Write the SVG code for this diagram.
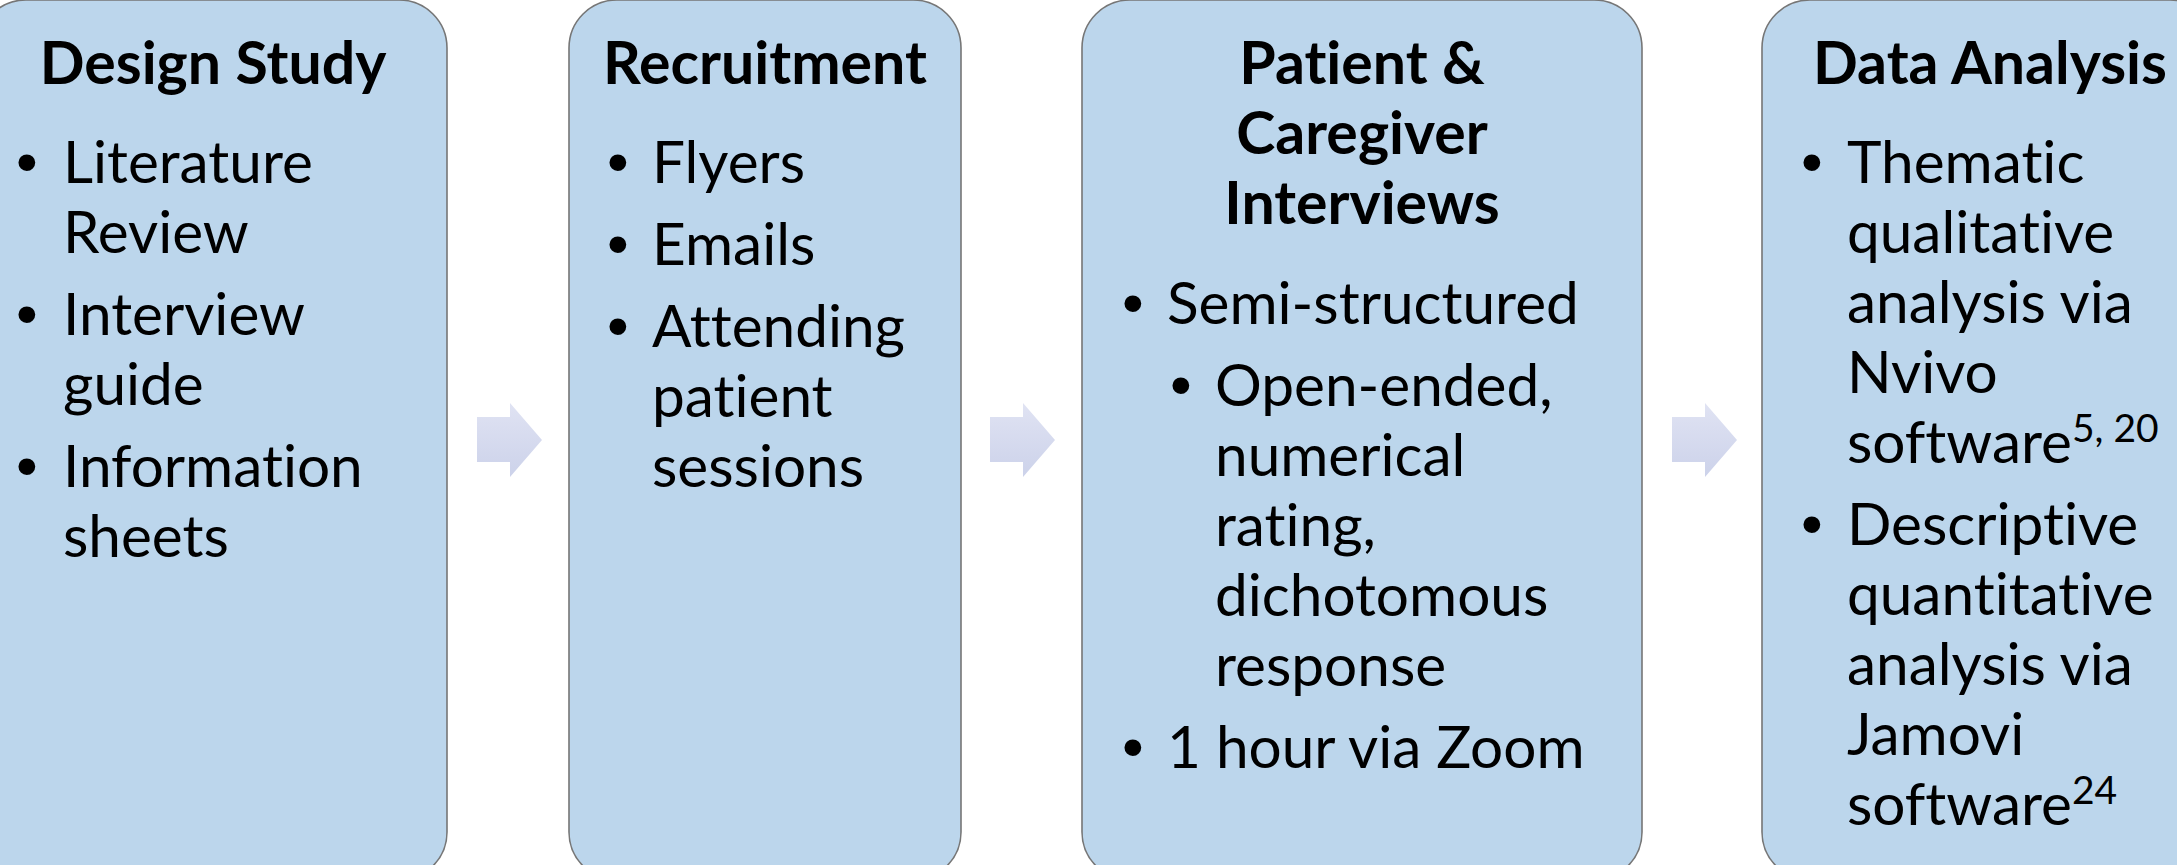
<svg xmlns="http://www.w3.org/2000/svg" width="2177" height="865" viewBox="0 0 2177 865">
  <defs>
    <linearGradient id="arrowFill" x1="0" y1="0" x2="0" y2="1">
      <stop offset="0" stop-color="#e0e3f3"/>
      <stop offset="1" stop-color="#ccd2ea"/>
    </linearGradient>
    <style>
      .box { fill: #bcd6ec; stroke: #767676; stroke-width: 1.6; }
      .arrow { fill: url(#arrowFill); stroke: none; }
      text { font-family: Lato, "Open Sans", sans-serif; fill: #000; font-variant-ligatures: none; font-feature-settings: "liga" 0, "dlig" 0; }
      .title { font-size: 59px; font-weight: 700; text-anchor: middle; }
      .item { font-size: 58.5px; }
      .dot { font-family: "Liberation Sans", Arial, sans-serif; font-size: 62px; }
      .sup { font-size: 39px; }
    </style>
  </defs>

  <rect width="2177" height="865" fill="#ffffff"/>

  <!-- step 1 -->
  <g id="design-study">
    <rect class="box" x="-22" y="0" width="469" height="880" rx="48" ry="48"/>
    <text class="title" x="213" y="84">Design Study</text>
    <text class="dot" x="16" y="183">•</text>
    <text class="item" x="63" y="183">Literature</text>
    <text class="item" x="63" y="253">Review</text>
    <text class="dot" x="16" y="335">•</text>
    <text class="item" x="63" y="335">Interview</text>
    <text class="item" x="63" y="405">guide</text>
    <text class="dot" x="16" y="487">•</text>
    <text class="item" x="63" y="487">Information</text>
    <text class="item" x="63" y="557">sheets</text>
  </g>

  <!-- step 2 -->
  <g id="recruitment">
    <rect class="box" x="569" y="0" width="392" height="880" rx="48" ry="48"/>
    <text class="title" x="765" y="84">Recruitment</text>
    <text class="dot" x="607" y="183">•</text>
    <text class="item" x="652" y="183">Flyers</text>
    <text class="dot" x="607" y="265">•</text>
    <text class="item" x="652" y="265">Emails</text>
    <text class="dot" x="607" y="347">•</text>
    <text class="item" x="652" y="347">Attending</text>
    <text class="item" x="652" y="417">patient</text>
    <text class="item" x="652" y="487">sessions</text>
  </g>

  <!-- step 3 -->
  <g id="interviews">
    <rect class="box" x="1082" y="0" width="560" height="880" rx="48" ry="48"/>
    <text class="title" x="1362" y="84">Patient &amp;</text>
    <text class="title" x="1362" y="154">Caregiver</text>
    <text class="title" x="1362" y="224">Interviews</text>
    <text class="dot" x="1122" y="324">•</text>
    <text class="item" x="1167" y="324">Semi-structured</text>
    <text class="dot" x="1170" y="406">•</text>
    <text class="item" x="1215" y="406">Open-ended,</text>
    <text class="item" x="1215" y="476">numerical</text>
    <text class="item" x="1215" y="546">rating,</text>
    <text class="item" x="1215" y="616">dichotomous</text>
    <text class="item" x="1215" y="686">response</text>
    <text class="dot" x="1122" y="768">•</text>
    <text class="item" x="1167" y="768">1 hour via Zoom</text>
  </g>

  <!-- step 4 -->
  <g id="data-analysis">
    <rect class="box" x="1762" y="0" width="456" height="880" rx="48" ry="48"/>
    <text class="title" x="1990" y="84">Data Analysis</text>
    <text class="dot" x="1801" y="183">•</text>
    <text class="item" x="1847" y="183">Thematic</text>
    <text class="item" x="1847" y="253">qualitative</text>
    <text class="item" x="1847" y="323">analysis via</text>
    <text class="item" x="1847" y="393">Nvivo</text>
    <text class="item" x="1847" y="463">software<tspan class="sup" dy="-21">5, 20</tspan></text>
    <text class="dot" x="1801" y="545">•</text>
    <text class="item" x="1847" y="545">Descriptive</text>
    <text class="item" x="1847" y="615">quantitative</text>
    <text class="item" x="1847" y="685">analysis via</text>
    <text class="item" x="1847" y="755">Jamovi</text>
    <text class="item" x="1847" y="825">software<tspan class="sup" dy="-21">24</tspan></text>
  </g>

  <!-- block arrows between steps -->
  <g id="connectors">
    <path class="arrow" d="M477 417 H510 V403 L542 440 L510 477 V462 H477 Z"/>
    <path class="arrow" d="M990 417 H1023 V403 L1055 440 L1023 477 V462 H990 Z"/>
    <path class="arrow" d="M1672 417 H1705 V403 L1737 440 L1705 477 V462 H1672 Z"/>
  </g>
</svg>
